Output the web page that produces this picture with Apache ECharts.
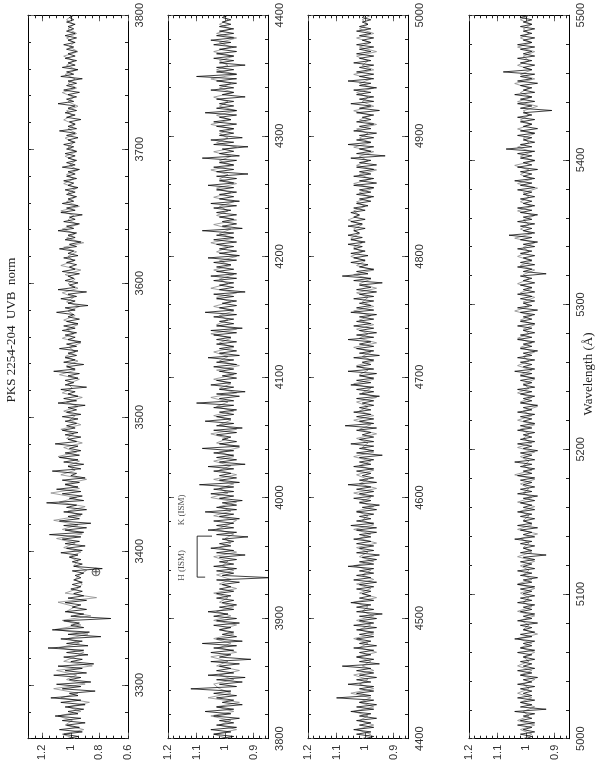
<!DOCTYPE html>
<html><head><meta charset="utf-8">
<script src="https://cdn.jsdelivr.net/npm/echarts@6/dist/echarts.min.js"></script>
<style>html,body{margin:0;padding:0;background:#fff}#c{width:600px;height:763px}</style>
</head><body><div id="c"></div><script>
// ---- wavelength ranges (Angstrom) of the four panels ----
const waveRange1 = [3260, 3800];
const waveRange2 = [3800, 4400];
const waveRange3 = [4400, 5000];
const waveRange4 = [5000, 5500];

// ---- flux axis ranges ----
const fluxRange1 = [0.6, 1.3];
const fluxRange2 = [0.85, 1.2];
const fluxRange3 = [0.85, 1.2];
const fluxRange4 = [0.85, 1.2];

// ---- tick labels ----
const fluxLabels1 = [0.6, 0.8, 1, 1.2];
const fluxLabels2 = [0.9, 1, 1.1, 1.2];
const waveLabels1 = [3300, 3400, 3500, 3600, 3700, 3800];
const waveLabels2 = [3800, 3900, 4000, 4100, 4200, 4300, 4400];
const waveLabels3 = [4400, 4500, 4600, 4700, 4800, 4900, 5000];
const waveLabels4 = [5000, 5100, 5200, 5300, 5400, 5500];

const flux1Black = [
1.03,0.95,1.05,0.92,1.08,0.94,1.03,0.90,1.06,0.93,1.11,0.95,1.02,0.91,1.04,0.90,1.07,0.93,1.14,0.95,
1.01,0.83,1.06,0.93,1.10,0.86,1.01,0.93,1.12,0.89,1.04,0.92,1.09,0.84,1.00,0.92,1.05,0.88,1.03,0.91,
1.16,0.88,1.03,0.92,1.07,0.79,1.02,0.87,1.13,0.91,1.00,0.94,1.05,0.72,1.00,0.91,1.04,0.89,0.99,0.93,
1.04,0.89,1.02,0.91,0.98,0.92,1.00,0.93,0.99,0.92,0.98,0.93,0.97,0.91,0.99,0.78,0.98,0.92,0.99,0.93,
1.01,0.95,1.07,0.92,1.03,0.90,1.04,0.94,1.06,0.93,1.15,0.91,1.04,0.89,1.05,0.86,1.08,0.94,1.02,0.92,
1.05,0.89,1.03,0.96,1.17,0.91,1.01,0.92,1.06,0.93,1.10,0.95,1.04,0.94,1.06,0.90,1.00,0.96,1.13,0.93,
1.02,0.91,1.05,0.95,1.08,0.94,1.04,0.93,1.01,0.95,1.11,0.96,1.02,0.93,1.04,0.95,1.06,0.97,1.03,0.96,
1.04,0.95,1.06,0.93,1.03,0.96,1.02,0.90,1.09,0.96,1.05,0.95,1.02,0.97,1.07,0.89,1.04,0.98,1.04,0.95,
1.02,0.94,1.12,0.97,1.03,0.91,1.05,0.97,1.04,0.96,1.02,0.95,1.08,0.96,1.03,0.93,1.02,0.97,1.04,0.96,
1.06,0.97,1.05,0.95,1.03,0.94,1.02,0.98,1.10,0.97,1.04,0.88,1.02,0.97,1.07,0.96,1.02,0.89,1.09,0.97,
1.01,0.95,1.04,0.98,1.02,0.94,1.06,0.97,1.01,0.96,1.03,0.97,1.05,0.95,1.02,0.98,1.08,0.96,1.01,0.93,
1.04,0.97,1.02,0.96,1.09,0.98,1.03,0.94,1.05,0.97,1.01,0.92,1.07,0.97,1.03,0.95,1.06,0.98,1.02,0.96,
1.03,0.97,1.04,0.95,1.02,0.98,1.05,0.96,1.03,0.97,1.02,0.94,1.06,0.97,1.03,0.96,1.02,0.97,1.04,0.96,
1.03,0.98,1.05,0.97,1.02,0.95,1.03,0.97,1.08,0.96,1.02,0.97,1.01,0.93,1.03,0.97,1.04,0.96,1.02,0.97,
1.09,0.98,1.03,0.96,1.02,0.94,1.05,0.97,1.03,0.96,1.02,0.92,1.07,0.98,1.03,0.95,1.06,0.97,1.02,0.96,
1.04,0.97,1.02,0.96,1.03,0.98,1.05,0.97,1.02,0.96,1.04,0.97,1.03,0.98,1.02,0.97,1.03,0.98,1.01,0.98];
const flux1Grey = [
0.97,1.06,0.91,1.04,0.99,1.09,0.93,1.02,0.87,1.07,0.95,1.12,
0.90,1.03,0.96,1.10,0.85,1.05,0.97,0.91,1.08,0.94,1.02,0.88,
1.11,0.93,1.06,0.86,1.03,0.97,1.09,0.82,1.04,0.95,0.92,0.97,
0.94,0.89,0.98,0.95,1.01,0.93,1.05,0.97,1.10,0.92,1.06,0.95,
1.12,0.93,1.02,0.90,1.08,0.96,1.14,0.94,1.04,0.89,1.07,0.97,
1.02,0.94,1.09,0.96,1.05,0.92,1.03,0.98,1.07,0.93,1.01,0.97,
1.05,0.95,1.03,0.92,1.06,0.99,1.02,0.94,1.08,0.97,1.03,0.95,
1.04,0.97,1.01,0.93,1.06,0.98,1.03,0.95,1.05,0.97,1.02,0.94,
1.03,0.98,1.06,0.95,1.02,0.97,1.04,0.93,1.07,0.98,1.02,0.96,
1.05,0.91,1.03,0.97,1.06,0.95,1.02,0.98,1.07,0.94,1.03,0.97,
1.02,0.96,1.05,0.98,1.03,0.95,1.01,0.97,1.04,0.96,1.02,0.98,
1.04,0.96,1.02,0.97,1.05,0.99,1.03,0.95,1.02,0.98,1.06,0.96,
1.02,0.97,1.04,0.96,1.03,0.98,1.05,0.95,1.01,0.98,1.03,0.96,
1.02,0.98,1.03,0.99];
const flux2Black = [
1.02,0.97,1.04,0.98,1.05,0.96,1.03,0.97,1.02,0.95,1.04,0.98,1.07,0.97,1.03,0.94,1.01,0.97,1.03,0.96,
1.04,0.98,1.12,0.96,1.02,0.94,1.03,0.93,1.06,0.97,1.03,0.98,1.02,0.95,1.05,0.91,1.02,0.98,1.05,0.97,
1.04,0.96,1.08,0.94,1.03,0.96,1.01,0.97,1.02,0.98,1.04,0.95,1.03,0.96,1.04,0.99,1.06,0.97,1.02,0.96,
1.01,0.97,1.03,0.98,1.03,0.97,1.02,0.98,1.01,0.95,1.03,0.84,1.01,0.97,1.03,0.96,1.04,0.97,1.02,0.96,
1.02,0.93,1.03,0.97,1.05,0.98,1.02,0.97,1.01,0.92,1.03,0.96,1.06,0.97,1.03,0.97,1.04,0.95,1.02,0.97,
1.07,0.96,1.03,0.96,1.01,0.94,1.02,0.97,1.05,0.97,1.04,0.97,1.09,0.95,1.02,0.96,1.02,0.98,1.04,0.97,
1.06,0.93,1.02,0.96,1.03,0.97,1.04,0.97,1.08,0.95,1.02,0.96,1.01,0.98,1.03,0.96,1.04,0.94,1.03,0.97,
1.07,0.98,1.03,0.97,1.02,0.96,1.04,0.97,1.10,0.97,1.02,0.95,1.03,0.93,1.02,0.97,1.05,0.98,1.03,0.96,
1.01,0.96,1.02,0.97,1.04,0.96,1.03,0.97,1.06,0.95,1.02,0.96,1.02,0.97,1.03,0.96,1.03,0.98,1.04,0.96,
1.05,0.94,1.03,0.97,1.02,0.97,1.04,0.96,1.07,0.97,1.02,0.96,1.01,0.96,1.03,0.97,1.04,0.93,1.02,0.97,
1.02,0.97,1.04,0.96,1.05,0.96,1.03,0.97,1.03,0.98,1.04,0.96,1.06,0.95,1.02,0.96,1.02,0.97,1.03,0.96,
1.04,0.97,1.03,0.97,1.08,0.94,1.01,0.96,1.01,0.97,1.02,0.96,1.03,0.98,1.04,0.96,1.05,0.95,1.02,0.97,
1.02,0.96,1.03,0.97,1.06,0.97,1.02,0.96,1.03,0.92,1.03,0.97,1.04,0.97,1.02,0.96,1.08,0.95,1.02,0.97,
1.01,0.92,1.04,0.97,1.05,0.94,1.02,0.97,1.02,0.97,1.03,0.96,1.04,0.98,1.02,0.96,1.07,0.96,1.03,0.97,
1.02,0.97,1.03,0.93,1.01,0.97,1.05,0.97,1.02,0.96,1.03,0.96,1.10,0.96,1.03,0.97,1.03,0.93,1.02,0.97,
1.04,0.97,1.03,0.96,1.02,0.96,1.04,0.98,1.05,0.97,1.03,0.97,1.02,0.97,1.02,0.98,1.01,0.98,1.01,0.99];
const flux2Grey = [
0.99,1.04,0.96,1.02,0.98,1.05,0.97,1.03,0.95,1.06,0.98,1.02,
1.04,0.97,1.02,0.95,1.03,0.99,1.05,0.96,1.02,0.98,1.04,0.97,
1.02,0.96,1.04,0.98,1.03,0.97,1.02,0.99,1.04,0.96,1.02,0.98,
1.03,0.97,1.01,0.99,1.04,0.96,1.02,0.98,1.00,0.97,1.03,0.99,
0.96,1.04,0.98,1.02,0.96,1.05,0.99,1.02,0.97,1.04,0.96,1.02,
0.98,1.04,0.97,1.02,0.95,1.03,0.99,1.05,0.96,1.02,0.98,1.04,
0.97,1.03,0.99,1.05,0.96,1.02,0.98,1.04,0.97,1.03,0.95,1.02,
0.99,1.04,0.97,1.02,0.98,1.05,0.96,1.03,0.99,1.02,0.97,1.04,
0.98,1.03,0.96,1.05,0.99,1.02,0.97,1.04,0.98,1.02,0.96,1.03,
0.99,1.05,0.97,1.02,0.98,1.04,0.96,1.03,0.99,1.02,0.97,1.04,
0.98,1.03,0.96,1.02,0.99,1.05,0.97,1.02,0.98,1.04,0.96,1.03,
0.99,1.02,0.97,1.05,0.98,1.03,0.96,1.02,0.99,1.04,0.97,1.02,
0.98,1.05,0.96,1.03,0.99,1.02,0.97,1.04,0.98,1.02,0.96,1.03,
0.98,1.02,0.99,1.01];
const flux3Black = [
1.00,0.97,1.03,0.98,1.04,0.97,1.02,0.98,1.03,0.96,1.02,0.98,1.05,0.97,1.03,0.96,1.02,0.97,1.10,0.98,
1.03,0.97,1.02,0.97,1.06,0.98,1.03,0.96,1.02,0.97,1.03,0.98,1.08,0.95,1.02,0.97,1.03,0.98,1.02,0.97,
1.04,0.96,1.02,0.98,1.03,0.97,1.02,0.97,1.03,0.96,1.04,0.97,1.02,0.96,1.02,0.94,1.03,0.97,1.03,0.98,
1.05,0.97,1.02,0.98,1.01,0.98,1.03,0.97,1.02,0.96,1.04,0.98,1.03,0.97,1.02,0.97,1.06,0.97,1.02,0.96,
1.01,0.95,1.03,0.97,1.02,0.97,1.03,0.98,1.04,0.98,1.02,0.96,1.03,0.96,1.05,0.97,1.03,0.98,1.02,0.97,
1.03,0.96,1.01,0.95,1.02,0.98,1.04,0.97,1.02,0.97,1.03,0.98,1.06,0.96,1.02,0.97,1.01,0.98,1.03,0.97,
1.04,0.98,1.02,0.97,1.02,0.94,1.03,0.97,1.02,0.97,1.05,0.97,1.02,0.97,1.01,0.98,1.03,0.96,1.07,0.97,
1.02,0.97,1.03,0.98,1.04,0.98,1.02,0.97,1.01,0.97,1.03,0.95,1.02,0.97,1.03,0.97,1.05,0.98,1.03,0.97,
1.02,0.96,1.06,0.97,1.03,0.98,1.01,0.97,1.04,0.95,1.02,0.97,1.03,0.97,1.02,0.98,1.06,0.97,1.03,0.96,
1.02,0.97,1.04,0.98,1.03,0.97,1.02,0.96,1.05,0.97,1.03,0.98,1.02,0.97,1.04,0.97,1.02,0.96,1.03,0.98,
1.02,0.94,1.04,0.98,1.08,0.99,1.03,0.97,1.02,0.99,1.05,1.00,1.04,0.99,1.05,1.00,1.04,1.01,1.06,1.00,
1.05,1.01,1.06,1.02,1.04,1.00,1.06,1.01,1.05,1.00,1.04,1.02,1.05,1.00,1.04,0.99,1.03,0.98,1.02,0.97,
1.03,0.98,1.02,0.97,1.04,0.96,1.02,0.97,1.04,0.98,1.02,0.97,1.03,0.96,1.02,0.98,1.05,0.93,1.03,0.98,
1.02,0.97,1.06,0.98,1.03,0.97,1.02,0.96,1.04,0.98,1.02,0.97,1.03,0.98,1.01,0.97,1.03,0.95,1.02,0.98,
1.05,0.97,1.02,0.97,1.03,0.98,1.04,0.96,1.02,0.98,1.06,0.97,1.02,0.97,1.03,0.98,1.02,0.97,1.04,0.98,
1.02,0.97,1.03,0.98,1.02,0.97,1.03,0.98,1.01,0.97,1.02,0.98,1.03,0.98,1.02,0.99,1.01,0.98,1.01,1.00];
const flux3Grey = [
1.01,0.98,1.03,0.97,1.02,0.99,1.04,0.97,1.02,0.98,1.05,0.97,
1.02,0.99,1.04,0.97,1.01,0.98,1.03,0.96,1.02,0.99,1.04,0.97,
1.02,0.98,1.03,0.97,1.01,0.99,1.04,0.96,1.02,0.98,1.03,0.97,
1.01,0.98,1.04,0.97,1.02,0.99,1.03,0.96,1.02,0.98,1.04,0.97,
1.01,0.99,1.03,0.97,1.02,0.98,1.04,0.96,1.02,0.99,1.03,0.97,
1.02,0.98,1.04,0.97,1.01,0.99,1.03,0.96,1.02,0.98,1.04,0.97,
1.02,0.99,1.03,0.96,1.01,0.98,1.04,0.97,1.02,0.99,1.03,0.97,
1.01,0.98,1.04,0.96,1.02,0.99,1.03,0.97,1.02,0.98,1.04,0.97,
1.01,0.99,1.03,0.96,1.02,0.98,1.04,0.97,1.03,1.00,1.05,1.01,
1.04,1.01,1.05,1.02,1.04,1.01,1.06,1.02,1.04,1.00,1.03,0.98,
1.02,0.97,1.04,0.98,1.02,0.96,1.03,0.99,1.02,0.97,1.04,0.98,
1.02,0.99,1.03,0.96,1.02,0.98,1.04,0.97,1.01,0.99,1.03,0.97,
1.02,0.98,1.04,0.97,1.01,0.99,1.03,0.96,1.02,0.98,1.03,0.97,
1.02,0.99,1.01,0.98];
const flux4Black = [
1.00,0.98,1.02,0.97,1.01,0.98,1.03,0.97,1.02,0.98,1.01,0.97,1.04,0.93,1.02,0.98,1.02,0.97,1.03,0.98,
1.01,0.98,1.02,0.97,1.03,0.98,1.01,0.96,1.02,0.98,1.03,0.97,1.01,0.98,1.02,0.97,1.01,0.98,1.03,0.97,
1.02,0.98,1.01,0.97,1.04,0.98,1.02,0.97,1.01,0.98,1.02,0.96,1.03,0.98,1.01,0.97,1.02,0.98,1.01,0.97,
1.03,0.98,1.02,0.97,1.01,0.98,1.02,0.97,1.03,0.98,1.01,0.96,1.02,0.98,1.03,0.97,1.01,0.98,1.02,0.97,
1.01,0.93,1.02,0.98,1.01,0.97,1.02,0.98,1.04,0.97,1.01,0.98,1.02,0.96,1.03,0.98,1.01,0.97,1.02,0.98,
1.03,0.97,1.01,0.98,1.02,0.97,1.01,0.96,1.03,0.98,1.02,0.97,1.01,0.98,1.02,0.97,1.03,0.98,1.01,0.97,
1.02,0.98,1.04,0.97,1.01,0.98,1.02,0.96,1.01,0.98,1.03,0.97,1.02,0.98,1.01,0.97,1.03,0.98,1.02,0.97,
1.01,0.98,1.02,0.97,1.03,0.98,1.01,0.96,1.02,0.98,1.01,0.97,1.02,0.98,1.03,0.97,1.01,0.98,1.02,0.97,
1.02,0.98,1.04,0.97,1.01,0.98,1.02,0.97,1.03,0.98,1.01,0.96,1.02,0.98,1.01,0.97,1.03,0.98,1.02,0.97,
1.01,0.98,1.03,0.97,1.02,0.98,1.01,0.97,1.02,0.96,1.03,0.98,1.01,0.97,1.02,0.98,1.03,0.97,1.01,0.98,
1.02,0.97,1.01,0.98,1.02,0.93,1.01,0.98,1.03,0.97,1.02,0.98,1.01,0.97,1.02,0.98,1.03,0.97,1.01,0.96,
1.02,0.98,1.06,0.97,1.01,0.98,1.02,0.97,1.03,0.98,1.01,0.96,1.02,0.98,1.03,0.97,1.01,0.98,1.02,0.97,
1.01,0.98,1.03,0.97,1.02,0.98,1.04,0.97,1.01,0.98,1.02,0.96,1.03,0.98,1.01,0.97,1.02,0.98,1.03,0.97,
1.07,0.98,1.02,0.97,1.01,0.98,1.03,0.97,1.02,0.96,1.01,0.98,1.02,0.97,1.03,0.98,1.01,0.91,1.02,0.98,
1.03,0.97,1.02,0.98,1.04,0.97,1.01,0.98,1.02,0.96,1.03,0.98,1.02,0.97,1.08,0.98,1.01,0.97,1.02,0.98,
1.03,0.97,1.01,0.98,1.02,0.97,1.03,0.98,1.01,0.97,1.02,0.98,1.01,0.97,1.02,0.98,1.01,0.98,1.02,0.99];
const flux4Grey = [
1.01,0.98,1.02,0.97,1.03,0.99,1.01,0.97,1.02,0.98,1.03,0.99,
1.01,0.97,1.02,0.98,1.03,0.99,1.01,0.97,1.02,0.98,1.03,0.96,
1.01,0.99,1.02,0.97,1.03,0.98,1.01,0.99,1.02,0.97,1.03,0.98,
1.01,0.99,1.02,0.97,1.03,0.98,1.01,0.99,1.02,0.96,1.03,0.98,
1.01,0.99,1.02,0.97,1.03,0.98,1.01,0.99,1.02,0.97,1.04,0.98,
1.01,0.99,1.02,0.97,1.03,0.98,1.01,0.99,1.02,0.97,1.03,0.98,
1.01,0.96,1.02,0.98,1.03,0.99,1.01,0.97,1.02,0.98,1.03,0.99,
1.01,0.97,1.02,0.98,1.03,0.99,1.01,0.97,1.02,0.98,1.04,0.99,
1.01,0.97,1.02,0.98,1.03,0.99,1.01,0.97,1.02,0.98,1.03,0.99,
1.01,0.97,1.04,0.98,1.02,0.99,1.01,0.97,1.03,0.98,1.02,0.99,
1.01,0.96,1.03,0.98,1.02,0.99,1.04,0.97,1.02,0.98,1.03,0.99,
1.01,0.97,1.03,0.98,1.02,0.99,1.01,0.96,1.03,0.98,1.02,0.99,
1.04,0.97,1.02,0.98,1.03,0.99,1.01,0.97,1.03,0.98,1.02,0.99,
1.01,0.98,1.02,0.99];

// ---- annotations ----
const ismWave = [3934, 3968];
const ismNames = ['H (ISM)', 'K (ISM)'];
const telluricMark = [0.824, 3384];

// ---- layout (pixels) ----
const gridLefts = [28, 168, 308, 469];
const gridTop = 15, gridW = 100, gridH = 724;

const panels = [
  {wave: waveRange1, flux: fluxRange1, fl: fluxLabels1, fStep: 0.05, wl: waveLabels1, black: flux1Black, grey: flux1Grey},
  {wave: waveRange2, flux: fluxRange2, fl: fluxLabels2, fStep: 0.02, wl: waveLabels2, black: flux2Black, grey: flux2Grey},
  {wave: waveRange3, flux: fluxRange3, fl: fluxLabels2, fStep: 0.02, wl: waveLabels3, black: flux3Black, grey: flux3Grey},
  {wave: waveRange4, flux: fluxRange4, fl: fluxLabels2, fStep: 0.02, wl: waveLabels4, black: flux4Black, grey: flux4Grey}
];

function steps(lo, hi, st) {
  const out = [];
  const k0 = Math.ceil(lo / st - 1e-9), k1 = Math.floor(hi / st + 1e-9);
  for (let k = k0; k <= k1; k++) out.push(Math.round(k * st * 1000) / 1000);
  return out;
}
function pairs(vals, range) {
  const n = vals.length, out = [];
  for (let i = 0; i < n; i++) out.push([vals[i], range[0] + i * (range[1] - range[0]) / (n - 1)]);
  return out;
}

const labelFont = {fontFamily: 'Liberation Sans', fontSize: 11, color: '#333', formatter: v => String(v)};
const grid = [], xAxis = [], yAxis = [], series = [];

panels.forEach((p, g) => {
  grid.push({left: gridLefts[g], top: gridTop, width: gridW, height: gridH});
  const fMinor = steps(p.flux[0], p.flux[1], p.fStep);
  const wMinor = steps(p.wave[0], p.wave[1], 20);
  ['bottom', 'top'].forEach(pos => {
    [true, false].forEach(major => {
      xAxis.push({
        gridIndex: g, type: 'value', min: p.flux[0], max: p.flux[1], inverse: true, position: pos,
        axisLine: {show: major, onZero: false, lineStyle: {color: '#000', width: 1}},
        axisTick: {show: true, inside: true, length: major ? 6 : 3, customValues: major ? p.fl : fMinor,
                   lineStyle: {color: major ? '#666' : '#222', width: 1}},
        axisLabel: Object.assign({show: major && pos === 'bottom', customValues: p.fl, rotate: 90, margin: 6}, labelFont),
        splitLine: {show: false}
      });
    });
  });
  ['right', 'left'].forEach(pos => {
    [true, false].forEach(major => {
      yAxis.push({
        gridIndex: g, type: 'value', min: p.wave[0], max: p.wave[1], position: pos,
        axisLine: {show: major, onZero: false, lineStyle: {color: '#000', width: 1}},
        axisTick: {show: true, inside: true, length: major ? 6 : 3, customValues: major ? p.wl : wMinor,
                   lineStyle: {color: major ? '#666' : '#222', width: 1}},
        axisLabel: Object.assign({show: major && pos === 'right', customValues: p.wl, rotate: 90, margin: 6}, labelFont),
        splitLine: {show: false}
      });
    });
  });
  const ax = g * 4;
  series.push({type: 'line', xAxisIndex: ax, yAxisIndex: ax, data: pairs(p.grey, p.wave), showSymbol: false, symbol: 'none',
               lineStyle: {color: '#8a8a8a', width: 0.8}, clip: true, silent: true});
  series.push({type: 'line', xAxisIndex: ax, yAxisIndex: ax, data: pairs(p.black, p.wave), showSymbol: false, symbol: 'none',
               lineStyle: {color: '#000', width: 0.75}, clip: true, silent: true});
});

// ISM bracket in panel 2
series.push({type: 'line', xAxisIndex: 4, yAxisIndex: 4, symbol: 'none', silent: true,
  data: [[1.07, ismWave[0]], [1.098, ismWave[0]], [1.098, ismWave[1]], [1.046, ismWave[1]]],
  lineStyle: {color: '#000', width: 0.8}});
series.push({type: 'scatter', xAxisIndex: 4, yAxisIndex: 4, symbolSize: 0, silent: true,
  data: ismWave.map((w, i) => ({value: [1.151, w + (i === 1 ? 9 : -3)], name: ismNames[i]})),
  label: {show: true, formatter: d => d.name, rotate: 90, position: 'inside', align: 'left', verticalAlign: 'middle',
          fontFamily: 'Liberation Serif', fontSize: 9, color: '#222'}});
// telluric marker in panel 1
series.push({type: 'scatter', xAxisIndex: 0, yAxisIndex: 0, symbolSize: 0, silent: true,
  data: [telluricMark],
  label: {show: true, formatter: '\u2295', position: 'inside', fontFamily: 'DejaVu Sans', fontSize: 13, color: '#222'}});

const chart = echarts.init(document.getElementById('c'), null, {renderer: 'canvas'});
chart.setOption({
  animation: false,
  backgroundColor: '#fff',
  grid, xAxis, yAxis, series,
  graphic: [
    {type: 'text', x: 12, y: 330, rotation: Math.PI / 2,
     style: {text: 'PKS 2254-204  UVB  norm', textAlign: 'center', textVerticalAlign: 'middle',
             font: '13px "Liberation Serif"', fill: '#222'}},
    {type: 'text', x: 589, y: 374, rotation: Math.PI / 2,
     style: {text: 'Wavelength (Å)', textAlign: 'center', textVerticalAlign: 'middle',
             font: '13px "Liberation Serif"', fill: '#222'}}
  ]
});
</script></body></html>
